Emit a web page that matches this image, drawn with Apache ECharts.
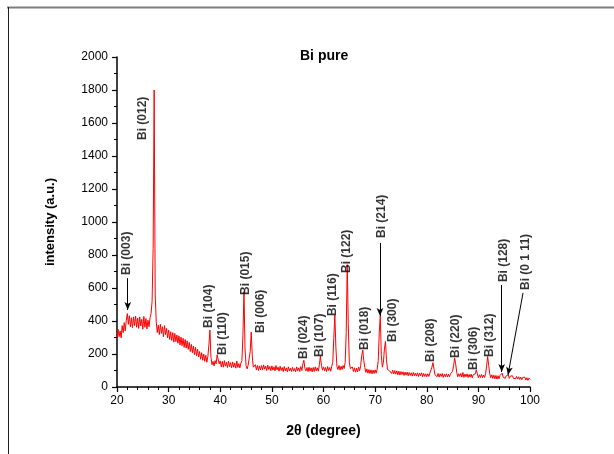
<!DOCTYPE html>
<html>
<head>
<meta charset="utf-8">
<title>Bi pure XRD</title>
<script src="https://cdn.jsdelivr.net/npm/echarts@6/dist/echarts.min.js"></script>
<style>
  html, body { margin: 0; padding: 0; background: #fff; }
  #chart { width: 614px; height: 454px; }
</style>
</head>
<body>
<div id="chart"></div>
<script>
// XRD pattern of pure Bi, intensity sampled every 0.2 degree from 20 to 100 (2θ)
const thetaStart = 20;
const thetaStep = 0.2;
const intensity = [
  290, 350, 305, 340, 298, 372, 330, 390, 340, 405,   // 20.0 - 21.8
  445, 380, 432, 365, 420, 360, 425, 372, 430, 362,   // 22.0 - 23.8
  418, 355, 425, 370, 410, 350, 428, 362, 415, 352,   // 24.0 - 25.8
  405, 365, 420, 445, 520, 840, 1800, 560, 395, 330,  // 26.0 - 27.8
  375, 318, 380, 325, 365, 305, 372, 318, 355, 298,   // 28.0 - 29.8
  345, 288, 335, 282, 330, 272, 325, 275, 315, 265,   // 30.0 - 31.8
  310, 255, 302, 250, 295, 240, 288, 236, 280, 228,   // 32.0 - 33.8
  270, 215, 258, 208, 248, 196, 240, 190, 230, 182,   // 34.0 - 35.8
  215, 168, 208, 162, 200, 156, 192, 150, 185, 255,   // 36.0 - 37.8
  345, 180, 135, 155, 128, 160, 140, 195, 200, 140,   // 38.0 - 39.8
  158, 122, 155, 120, 160, 126, 150, 118, 156, 124,   // 40.0 - 41.8
  148, 116, 152, 120, 146, 114, 158, 118, 142, 116,   // 42.0 - 43.8
  145, 160, 320, 578, 230, 130, 110, 132, 140, 215,   // 44.0 - 45.8
  333, 190, 120, 110, 135, 104, 130, 100, 128, 104,   // 46.0 - 47.8
  130, 104, 134, 108, 126, 100, 132, 106, 124, 99,    // 48.0 - 49.8
  128, 102, 122, 98, 130, 104, 120, 96, 126, 100,     // 50.0 - 51.8
  118, 94, 124, 98, 116, 92, 122, 97, 114, 94,        // 52.0 - 53.8
  120, 96, 112, 92, 122, 98, 116, 94, 124, 100,       // 54.0 - 55.8
  140, 162, 112, 98, 118, 94, 120, 96, 116, 92,       // 56.0 - 57.8
  118, 94, 122, 98, 116, 96, 135, 188, 132, 102,      // 58.0 - 59.8
  122, 98, 118, 94, 124, 100, 118, 96, 126, 150,      // 60.0 - 61.8
  300, 436, 240, 124, 106, 130, 102, 126, 106, 130,   // 62.0 - 63.8
  112, 150, 330, 742, 380, 150, 112, 102, 121, 94,    // 64.0 - 65.8
  116, 90, 114, 92, 121, 98, 130, 190, 224, 160,      // 66.0 - 67.8
  118, 89, 110, 84, 106, 82, 104, 80, 102, 82,        // 68.0 - 69.8
  104, 84, 108, 160, 330, 430, 190, 120, 150, 230,    // 70.0 - 71.8
  276, 165, 106, 94, 98, 96, 82, 102, 79, 100,        // 72.0 - 73.8
  78, 98, 74, 96, 72, 94, 76, 92, 70, 90,             // 74.0 - 75.8
  72, 90, 68, 88, 70, 86, 66, 88, 68, 84,             // 76.0 - 77.8
  66, 86, 64, 84, 68, 86, 62, 82, 64, 80,             // 78.0 - 79.8
  62, 80, 64, 84, 90, 120, 148, 110, 74, 84,          // 80.0 - 81.8
  62, 82, 60, 80, 64, 82, 58, 78, 62, 80,             // 82.0 - 83.8
  60, 78, 62, 80, 70, 95, 130, 176, 140, 90,          // 84.0 - 85.8
  62, 80, 64, 82, 60, 88, 58, 78, 62, 80,             // 86.0 - 87.8
  58, 76, 60, 78, 56, 74, 62, 80, 104, 92,            // 88.0 - 89.8
  56, 74, 58, 76, 56, 72, 58, 80, 130, 185,           // 90.0 - 91.8
  130, 80, 56, 74, 52, 72, 50, 70, 48, 68,            // 92.0 - 93.8
  50, 70, 78, 84, 60, 64, 52, 68, 56, 74,             // 94.0 - 95.8
  52, 66, 54, 68, 52, 62, 50, 64, 48, 62,             // 96.0 - 97.8
  46, 60, 44, 58, 48, 60, 42, 56, 40, 54,             // 98.0 - 99.8
  46                                                  // 100.0
];

// Reflection labels: name, 2θ of the label, intensity where the label starts
const peakNames = ['Bi (003)', 'Bi (012)', 'Bi (104)', 'Bi (110)', 'Bi (015)', 'Bi (006)',
  'Bi (024)', 'Bi (107)', 'Bi (116)', 'Bi (122)', 'Bi (018)', 'Bi (214)', 'Bi (300)',
  'Bi (208)', 'Bi (220)', 'Bi (306)', 'Bi (312)', 'Bi (128)', 'Bi (0 1 11)'];
const peakLabelTheta = [21.94, 25.04, 37.82, 40.47, 44.99, 47.89, 56.22, 59.32, 61.84, 64.55,
  68.04, 71.27, 73.46, 80.76, 85.61, 89.15, 92.25, 94.96, 99.23];
const peakLabelBase = [679, 1497, 358, 194, 558, 327, 170, 182, 430, 691,
  224, 903, 273, 152, 176, 103, 182, 636, 588];

// Arrows from a label down to its reflection: [from 2θ, from I, to 2θ, to I]
const arrowSegments = [
  [22.08, 660, 22.08, 467],
  [70.94, 873, 70.94, 430],
  [94.52, 618, 94.52, 91],
  [98.65, 570, 95.74, 73]
];

const xTicks = { min: 20, max: 100, interval: 10 };
const yTicks = { min: 0, max: 2000, interval: 200 };

const pattern = intensity.map((v, i) => [+(thetaStart + i * thetaStep).toFixed(1), v]);
const labelData = peakNames.map((n, i) => ({ name: n, value: [peakLabelTheta[i], peakLabelBase[i]] }));
const arrowData = arrowSegments.map(s => [{ coord: [s[0], s[1]] }, { coord: [s[2], s[3]] }]);

const FONT = 'Arial, "Liberation Sans", Helvetica, sans-serif';

const chart = echarts.init(document.getElementById('chart'), null, { renderer: 'canvas' });
chart.setOption({
  animation: false,
  backgroundColor: '#ffffff',
  title: {
    text: 'Bi pure',
    left: 300,
    top: 49,
    padding: 0,
    textStyle: { fontFamily: FONT, fontSize: 14, fontWeight: 'bold', color: '#000' }
  },
  grid: { left: 117, right: 84, top: 57, bottom: 67, containLabel: false },
  xAxis: {
    type: 'value',
    min: xTicks.min, max: xTicks.max, interval: xTicks.interval,
    name: '2θ (degree)',
    nameLocation: 'middle',
    nameGap: 37,
    nameTextStyle: { fontFamily: FONT, fontSize: 14, fontWeight: 'bold', color: '#000' },
    axisLine: { show: true, onZero: false, lineStyle: { color: '#000', width: 1.5 } },
    axisTick: { show: true, inside: false, length: 5, lineStyle: { color: '#000', width: 1.2 } },
    minorTick: { show: true, splitNumber: 5, length: 3, lineStyle: { color: '#000', width: 1 } },
    axisLabel: { fontFamily: FONT, fontSize: 12, color: '#000', margin: 8, formatter: v => String(v) },
    splitLine: { show: false }
  },
  yAxis: {
    type: 'value',
    min: yTicks.min, max: yTicks.max, interval: yTicks.interval,
    name: 'intensity (a.u.)',
    nameLocation: 'middle',
    nameGap: 60,
    nameTextStyle: { fontFamily: FONT, fontSize: 13, fontWeight: 'bold', color: '#000' },
    axisLine: { show: true, onZero: false, lineStyle: { color: '#000', width: 1.5 } },
    axisTick: { show: true, inside: false, length: 5, lineStyle: { color: '#000', width: 1.2 } },
    minorTick: { show: true, splitNumber: 2, length: 3, lineStyle: { color: '#000', width: 1 } },
    axisLabel: { fontFamily: FONT, fontSize: 12, color: '#000', margin: 9, formatter: v => String(v) },
    splitLine: { show: false }
  },
  graphic: [
    { type: 'line', silent: true, shape: { x1: 7, y1: 7.5, x2: 614, y2: 7.5 },
      style: { stroke: '#7f7f7f', lineWidth: 2 } },
    { type: 'line', silent: true, shape: { x1: 8.5, y1: 7, x2: 8.5, y2: 454 },
      style: { stroke: '#222', lineWidth: 1 } }
  ],
  series: [
    {
      name: 'Bi pure',
      type: 'line',
      data: pattern,
      showSymbol: false,
      symbol: 'none',
      sampling: false,
      lineStyle: { color: '#ff0000', width: 1 },
      silent: true,
      z: 2,
      markLine: {
        silent: true,
        symbol: ['none', 'arrow'],
        symbolSize: [5, 8],
        label: { show: false },
        lineStyle: { color: '#000', width: 1, type: 'solid' },
        emphasis: { disabled: true },
        data: arrowData
      }
    },
    {
      name: 'reflections',
      type: 'scatter',
      data: labelData,
      symbolSize: 0,
      silent: true,
      z: 3,
      label: {
        show: true,
        formatter: p => p.name,
        position: [0, 0],
        rotate: 90,
        align: 'left',
        verticalAlign: 'middle',
        fontFamily: FONT,
        fontSize: 12,
        fontWeight: 'bold',
        color: '#000'
      }
    }
  ]
});
</script>
</body>
</html>
